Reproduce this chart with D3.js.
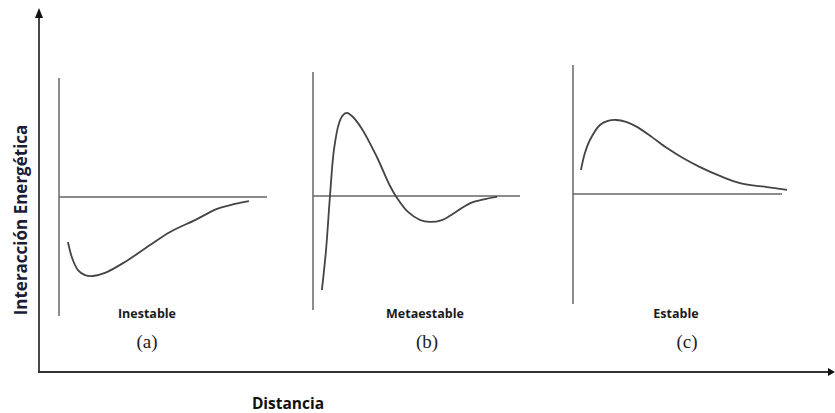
<!DOCTYPE html>
<html>
<head>
<meta charset="utf-8">
<script src="https://cdn.jsdelivr.net/npm/d3@7"></script>
<style>
  body { margin: 0; background: #fff; }
  svg { display: block; }
  .bold { font-family: "Open Sans", Lato, sans-serif; font-weight: 700; }
  .serif { font-family: "Liberation Serif", "DejaVu Serif", serif; }
</style>
</head>
<body>
<div id="chart"></div>
<script>
// panel names and captions
var panelNames = ["Inestable", "Metaestable", "Estable"];
var panelTags = ["(a)", "(b)", "(c)"];

// energy extents of each small axis (zero line inside)
var yMins = [-5.0, -4.79, -4.62];
var yMaxs = [5.0, 5.21, 5.42];
var xMaxs = [10, 10, 10];

// curves: [distance, energy]
var curveA = [
  [0.43, -1.89], [0.63, -2.56], [0.91, -3.07], [1.25, -3.28], [1.63, -3.32],
  [2.21, -3.19], [3.17, -2.73], [4.38, -2.02], [5.34, -1.47], [6.54, -0.97],
  [7.60, -0.50], [8.46, -0.29], [9.13, -0.17]
];
var curveB = [
  [0.43, -3.95], [0.63, -2.27], [0.82, 0.0], [1.01, 1.93], [1.26, 3.07],
  [1.45, 3.40], [1.64, 3.49], [1.88, 3.36], [2.35, 2.84], [3.08, 1.65],
  [3.72, 0.42], [4.06, -0.08], [4.59, -0.67], [5.17, -1.01], [5.65, -1.09],
  [6.23, -1.01], [6.62, -0.83], [7.58, -0.31], [8.31, -0.13], [8.89, -0.04]
];
var curveC = [
  [0.38, 1.01], [0.57, 1.72], [0.81, 2.27], [1.29, 2.90], [1.67, 3.07],
  [2.06, 3.11], [2.54, 3.03], [3.06, 2.82], [3.78, 2.39], [4.50, 1.93],
  [5.26, 1.51], [6.08, 1.13], [7.03, 0.76], [7.99, 0.46], [9.28, 0.29],
  [10.24, 0.17]
];
var curves = [curveA, curveB, curveC];

var width = 835, height = 413;

var svg = d3.select("#chart").append("svg")
    .attr("width", width)
    .attr("height", height);

// big axes
var axisColor = "#333";
svg.append("line")
    .attr("x1", 39).attr("y1", 16).attr("x2", 39).attr("y2", 372)
    .attr("stroke", axisColor).attr("stroke-width", 1.8);
svg.append("line")
    .attr("x1", 38).attr("y1", 372).attr("x2", 830).attr("y2", 372)
    .attr("stroke", axisColor).attr("stroke-width", 1.8);
svg.append("path")
    .attr("d", "M39,8 L35,18 L43,18 Z")
    .attr("fill", "#111");
svg.append("path")
    .attr("d", "M835,372 L828,368 L828,376 Z")
    .attr("fill", "#111");

svg.append("text")
    .attr("class", "bold")
    .attr("transform", "translate(27,220) rotate(-90)")
    .attr("text-anchor", "middle")
    .attr("font-size", 17)
    .attr("fill", "#1c1c38")
    .text("Interacción Energética");

svg.append("text")
    .attr("class", "bold")
    .attr("x", 288).attr("y", 409)
    .attr("text-anchor", "middle")
    .attr("font-size", 15.5)
    .attr("fill", "#111")
    .text("Distancia");

// layout of the three panels
var panels = [
  { left: 59, right: 267, top: 78, bottom: 316, nameX: 147, tagX: 147 },
  { left: 313, right: 520, top: 72, bottom: 310, nameX: 425, tagX: 427 },
  { left: 573, right: 782, top: 65, bottom: 304, nameX: 676, tagX: 687 }
];

var lineColor = "#666";

panels.forEach(function(p, i) {
    var x = d3.scaleLinear().domain([0, xMaxs[i]]).range([p.left, p.right]);
    var y = d3.scaleLinear().domain([yMins[i], yMaxs[i]]).range([p.bottom, p.top]);

    var g = svg.append("g");

    // energy axis
    g.append("line")
        .attr("x1", x(0)).attr("x2", x(0))
        .attr("y1", y(yMaxs[i])).attr("y2", y(yMins[i]))
        .attr("stroke", lineColor).attr("stroke-width", 1.5);

    // zero line
    g.append("line")
        .attr("x1", x(0)).attr("x2", x(xMaxs[i]))
        .attr("y1", y(0)).attr("y2", y(0))
        .attr("stroke", lineColor).attr("stroke-width", 1.5);

    var line = d3.line()
        .x(function(d) { return x(d[0]); })
        .y(function(d) { return y(d[1]); })
        .curve(d3.curveCatmullRom);

    g.append("path")
        .datum(curves[i])
        .attr("d", line)
        .attr("fill", "none")
        .attr("stroke", "#444")
        .attr("stroke-width", 1.8);

    g.append("text")
        .attr("class", "bold")
        .attr("x", p.nameX).attr("y", 318)
        .attr("text-anchor", "middle")
        .attr("font-size", 12.5)
        .attr("fill", "#1a1a1a")
        .text(panelNames[i]);

    g.append("text")
        .attr("class", "serif")
        .attr("x", p.tagX).attr("y", 348)
        .attr("text-anchor", "middle")
        .attr("font-size", 19)
        .attr("fill", "#222")
        .text(panelTags[i]);
});
</script>
</body>
</html>
